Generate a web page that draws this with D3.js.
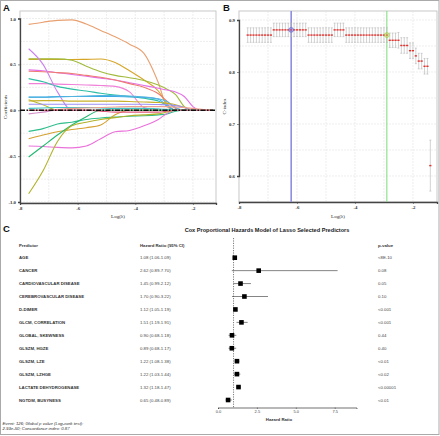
<!DOCTYPE html>
<html><head><meta charset="utf-8">
<script src="https://cdn.jsdelivr.net/npm/d3@7"></script>
<style>body{margin:0;background:#fff}svg{display:block}</style>
</head><body><svg id="c" width="440" height="436"></svg>
<script>
// ---------- Panel A: lasso coefficient paths ----------
const lambdaGrid = [-7.7,-7.2,-6.7,-6.2,-5.7,-5.2,-4.7,-4.2,-3.7,-3.2,-2.9,-2.6,-2.3,-2.0,-1.7,-1.3];
const coefPaths = [
  [0.936,0.96,0.98,0.985,0.94,0.87,0.80,0.72,0.62,0.30,0.04,0,0,0,0,0],
  [0.555,0.555,0.553,0.553,0.555,0.558,0.52,0.43,0.33,0.21,0.07,0,0,0,0,0],
  [0.56,0.56,0.56,0.545,0.48,0.42,0.38,0.355,0.325,0.275,0.23,0.17,0.04,0,0,0],
  [0.44,0.43,0.41,0.39,0.37,0.35,0.33,0.30,0.27,0.24,0.22,0.20,0.15,0.04,0,0],
  [0.425,0.42,0.41,0.40,0.38,0.36,0.33,0.29,0.25,0.18,0.10,0.02,0,0,0,0],
  [0.29,0.29,0.285,0.28,0.275,0.27,0.26,0.20,0.03,0,0,0,0,0,0,0],
  [0.345,0.31,0.26,0.23,0.21,0.185,0.165,0.15,0.13,0.10,0.05,0,0,0,0,0],
  [0.67,0.50,0.20,0,0,0,0,0,0,0,0,0,0,0,0,0],
  [0.145,0.145,0.15,0.15,0.15,0.15,0.15,0.145,0.14,0.12,0.05,0,0,0,0,0],
  [0.14,0.14,0.145,0.15,0.155,0.16,0.16,0.155,0.145,0.125,0.095,0.03,0,0,0,0],
  [0.115,0.06,0,0,0,0,0,0,0,0,0,0,0,0,0,0],
  [0.10,0.105,0.105,0.10,0.10,0.10,0.10,0.095,0.09,0.085,0.075,0.06,0.03,0,0,0],
  [0.065,0.065,0.065,0.065,0.065,0.065,0.065,0.065,0.065,0.062,0.06,0.05,0.03,0,0,0],
  [-0.04,-0.02,0,0,0,0,0,0,0,0,0,0,0,0,0,0],
  [-0.23,-0.20,-0.15,-0.13,-0.10,-0.085,-0.075,-0.065,-0.06,-0.05,-0.04,-0.01,0,0,0,0],
  [-0.31,-0.27,-0.235,-0.21,-0.19,-0.16,-0.05,0,0,0,0,0,0,0,0,0],
  [-0.39,-0.395,-0.405,-0.41,-0.39,-0.31,-0.235,-0.22,-0.17,-0.10,-0.035,0,0,0,0,0],
  [-0.51,-0.39,-0.27,-0.16,-0.07,0,0,0,0,0,0,0,0,0,0,0],
  [-0.91,-0.66,-0.34,-0.17,-0.13,-0.10,-0.08,-0.06,-0.05,-0.04,-0.02,0,0,0,0,0],
  [0.02,0.025,0.03,0.03,0.03,0.025,0.02,0.02,0.02,0.015,0.01,0,0,0,0,0],
  [0,0,0.01,0.02,0.025,0.03,0.035,0.04,0.04,0.04,0.04,0.035,0.03,0.02,0.01,0],
  [0,0,0,0,0,-0.01,-0.02,-0.02,-0.02,-0.02,-0.01,0,0,0,0,0]
];
const coefColors = ["#E9A070","#D7A526","#A0BA3A","#E46FE8","#EE7B72","#F080D8","#2EBFA5","#CC80F0",
  "#3AA9E6","#55B5E0","#B8B828","#C9B02A","#9A90F5","#D390C8","#30BE8C","#D5A030","#EA72DA",
  "#20B870","#B2B22A","#40C4C4","#F0A090","#E05A7A"];
const axisTicksLog = [-8,-6,-4,-2];
const coefTicks = [-1,-0.5,0,0.5,1];

// ---------- Panel B: cross-validated C-index ----------
const cvLogLambda = [-7.7,-7.6,-7.5,-7.4,-7.3,-7.2,-7.1,-7.0,-6.9,-6.8,-6.7,-6.6,-6.5,-6.4,-6.3,-6.2,-6.1,-6.0,-5.9,-5.8,
  -5.7,-5.6,-5.5,-5.4,-5.3,-5.2,-5.1,-5.0,-4.9,-4.8,-4.7,-4.6,-4.5,-4.4,-4.3,-4.2,-4.1,-4.0,-3.9,-3.8,
  -3.7,-3.6,-3.5,-3.4,-3.3,-3.2,-3.1,-3.0,-2.9,-2.8,-2.7,-2.6,-2.5,-2.4,-2.3,-2.2,-2.1,-2.0,-1.9,-1.8,
  -1.7,-1.6,-1.5,-1.4];
const cvMean = [0.871,0.871,0.871,0.871,0.871,0.871,0.871,0.871,0.871,
  0.881,0.881,0.881,0.881,0.881,0.881,0.881,0.881,0.881,0.881,0.881,0.881,
  0.871,0.871,0.871,0.871,0.871,0.871,0.871,0.871,0.871,
  0.881,0.881,0.881,0.881,
  0.871,0.871,0.871,0.871,0.871,0.871,0.871,0.871,0.871,0.871,0.871,0.871,0.871,0.871,0.871,
  0.861,0.861,0.861,0.861,0.851,0.851,0.851,0.841,0.841,0.831,0.821,0.821,0.811,0.811,0.62];
const cvSE = [0.014,0.014,0.014,0.014,0.014,0.014,0.014,0.014,0.014,
  0.013,0.013,0.013,0.013,0.013,0.013,0.013,0.013,0.013,0.013,0.013,0.013,
  0.014,0.014,0.014,0.014,0.014,0.014,0.014,0.014,0.014,
  0.013,0.013,0.013,0.013,
  0.014,0.014,0.014,0.014,0.014,0.014,0.014,0.014,0.014,0.014,0.014,0.014,0.014,0.014,0.014,
  0.014,0.014,0.014,0.015,0.015,0.015,0.015,0.015,0.015,0.015,0.015,0.015,0.015,0.015,0.049];
const lambdaMinLog = -6.2, lambdaMinC = 0.881;
const lambda1seLog = -2.9, lambda1seC = 0.871;
const cTicks = [0.6,0.7,0.8,0.9];

// ---------- Panel C: forest plot ----------
const predictors = ["AGE","CANCER","CARDIOVASCULAR DISEASE","CEREBROVASCULAR DISEASE","D-DIMER","GLCM, CORRELATION",
  "GLOBAL, SKEWNESS","GLSZM, HGZE","GLSZM, LZE","GLSZM, LZHGE","LACTATE DEHYDROGENASE","NGTDM, BUSYNESS"];
const hr = [1.08,2.62,1.45,1.70,1.12,1.51,0.90,0.89,1.22,1.22,1.32,0.65];
const hrLow = [1.06,0.89,0.99,0.90,1.05,1.19,0.68,0.68,1.08,1.03,1.18,0.48];
const hrHigh = [1.09,7.70,2.12,3.22,1.19,1.91,1.18,1.17,1.38,1.44,1.47,0.89];
const pValues = ["<8E-10","0.08","0.05","0.10","<0.001","<0.001","0.44","0.40","<0.01","<0.02","<0.00001","<0.01"];
const hrTicks = [0,2.5,5,7.5];

const svg = d3.select("#c");
svg.append("rect").attr("x",0.5).attr("y",0.5).attr("width",438.5).attr("height",434)
  .attr("fill","#fff").attr("stroke","#aaa");

const tickFont = "'Liberation Serif', serif";
function panel(g, x, y, x0, x1, y0, y1, xGrid, yGrid, xTicks, yTicks, yFmt, yTitle, clipId) {
  g.append("rect").attr("x",x0).attr("y",y0).attr("width",x1-x0).attr("height",y1-y0)
    .attr("fill","#fff").attr("stroke","#bbb").attr("stroke-width",0.8);
  g.selectAll(".gx").data(xGrid).join("line").attr("x1",d=>x(d)).attr("x2",d=>x(d)).attr("y1",y0).attr("y2",y1)
    .attr("stroke","#e2e2e2").attr("stroke-width",0.6).attr("stroke-dasharray","2,1");
  g.selectAll(".gy").data(yGrid).join("line").attr("y1",d=>y(d)).attr("y2",d=>y(d)).attr("x1",x0).attr("x2",x1)
    .attr("stroke","#e2e2e2").attr("stroke-width",0.6).attr("stroke-dasharray","2,1");
  const ax = g.append("g").attr("transform",`translate(0,${y1})`)
    .call(d3.axisBottom(x).tickValues(xTicks).tickSize(2).tickPadding(2).tickFormat(d=>String(d).replace("\u2212","-")));
  const ay = g.append("g").attr("transform",`translate(${x0},0)`)
    .call(d3.axisLeft(y).tickValues(yTicks).tickSize(2).tickPadding(2).tickFormat(yFmt));
  [ax,ay].forEach(a=>{
    a.select(".domain").attr("stroke","#444").attr("stroke-width",1.3);
    a.selectAll(".tick line").attr("stroke","#444").attr("stroke-width",0.6);
    a.selectAll("text").attr("font-family",tickFont).attr("font-size",4.8).attr("font-weight","bold").attr("fill","#333");
  });
  g.append("text").attr("x",(x0+x1)/2).attr("y",218).attr("text-anchor","middle")
    .attr("font-family",tickFont).attr("font-size",5).attr("fill","#222").text("Log(\u03bb)");
  g.append("text").attr("transform",`translate(${x0-13},${(y0+y1)/2}) rotate(-90)`).attr("text-anchor","middle")
    .attr("font-family",tickFont).attr("font-size",5).attr("fill","#222").text(yTitle);
  g.append("clipPath").attr("id",clipId).append("rect").attr("x",x0).attr("y",y0).attr("width",x1-x0).attr("height",y1-y0);
}

// Panel A
const gA = svg.append("g");
const xA = d3.scaleLinear().domain([-8,-1.2]).range([20,216]);
const yA = d3.scaleLinear().domain([-1,1]).range([202,18.5]);
panel(gA, xA, yA, 20, 216, 11, 203, d3.range(-8,-1,1), d3.range(-1,1.01,0.25), axisTicksLog, coefTicks,
  d=>d.toFixed(1).replace("\u2212","-"), "Coefficients", "clipA");
const lineA = d3.line().x((d,i)=>xA(lambdaGrid[i])).y(d=>yA(d)).curve(d3.curveMonotoneX);
gA.append("g").attr("clip-path","url(#clipA)").selectAll("path").data(coefPaths).join("path")
  .attr("d",lineA).attr("fill","none").attr("stroke",(d,i)=>coefColors[i]).attr("stroke-width",1.1);
gA.append("line").attr("x1",20).attr("x2",216).attr("y1",yA(0)).attr("y2",yA(0))
  .attr("stroke","#111").attr("stroke-width",1.3).attr("stroke-dasharray","5,1.5,1.5,1.5");

// Panel B
const gB = svg.append("g");
const xB = d3.scaleLinear().domain([-8,-1.17]).range([239,437]);
const yB = d3.scaleLinear().domain([0.6,0.9]).range([176,20]);
panel(gB, xB, yB, 239, 437, 11, 202, d3.range(-8,-1,1), d3.range(0.55,0.92,0.05), axisTicksLog, cTicks,
  d=>d.toFixed(1), "C-index", "clipB");
const cv = cvLogLambda.map((l,i)=>({l, m:cvMean[i], se:cvSE[i]}));
const gCv = gB.append("g").attr("clip-path","url(#clipB)");
gCv.append("line").attr("x1",xB(lambdaMinLog)).attr("x2",xB(lambdaMinLog)).attr("y1",11).attr("y2",202)
  .attr("stroke","#8e8ee0").attr("stroke-width",1.6);
gCv.append("line").attr("x1",xB(lambda1seLog)).attr("x2",xB(lambda1seLog)).attr("y1",11).attr("y2",202)
  .attr("stroke","#77dd77").attr("stroke-width",1);
gCv.selectAll(".eb").data(cv).join("path")
  .attr("d",d=>{const x=xB(d.l), a=yB(d.m+d.se), b=yB(d.m-d.se);
    return `M${x-1},${a}H${x+1}M${x},${a}V${b}M${x-1},${b}H${x+1}`;})
  .attr("fill","none").attr("stroke","#b4b4b4").attr("stroke-width",0.6);
gCv.selectAll(".pt").data(cv).join("rect")
  .attr("x",d=>xB(d.l)-1.1).attr("y",d=>yB(d.m)-0.7).attr("width",2.2).attr("height",1.4).attr("fill","#e0332f");
gCv.append("circle").attr("cx",xB(lambdaMinLog)).attr("cy",yB(lambdaMinC)).attr("r",2.4)
  .attr("fill","rgba(120,120,230,0.45)").attr("stroke","#6a6ad0").attr("stroke-width",0.7);
gCv.append("circle").attr("cx",xB(lambda1seLog)).attr("cy",yB(lambda1seC)).attr("r",2.4)
  .attr("fill","rgba(190,220,90,0.45)").attr("stroke","#a8c838").attr("stroke-width",0.7);

// Panel labels
const lab = (t,x,y)=>svg.append("text").attr("x",x).attr("y",y).attr("font-family","'Liberation Sans', Arial, sans-serif")
  .attr("font-weight","bold").attr("font-size",9.5).attr("fill","#111").text(t);
lab("A",3,10.5); lab("B",223,10.5); lab("C",3,232);

// Panel C
const gC = svg.append("g");
const sans = "'Liberation Sans', Arial, sans-serif";
gC.append("text").attr("x",267).attr("y",232).attr("text-anchor","middle").attr("font-family",sans)
  .attr("font-weight","bold").attr("font-size",5.6).attr("fill","#222")
  .text("Cox Proportional Hazards Model of Lasso Selected Predictors");
const hdr = [["Predictor",19],["Hazard Ratio (95% CI)",140],["p-value",378]];
gC.selectAll(".hdr").data(hdr).join("text").attr("x",d=>d[1]).attr("y",246.5)
  .attr("font-family",sans).attr("font-weight","bold").attr("font-size",4.3).attr("fill","#333").text(d=>d[0]);
const rowY = d3.scalePoint().domain(d3.range(predictors.length)).range([257.7,400]);
const xC = d3.scaleLinear().domain([0,7.5]).range([218,334.5]);
gC.selectAll(".pred").data(predictors).join("text").attr("x",19).attr("y",(d,i)=>rowY(i)+1.5)
  .attr("font-family",sans).attr("font-weight","bold").attr("font-size",4.3).attr("fill","#333").text(d=>d);
gC.selectAll(".hrt").data(hr).join("text").attr("x",140).attr("y",(d,i)=>rowY(i)+1.5)
  .attr("font-family",sans).attr("font-size",4.3).attr("fill","#444")
  .text((d,i)=>`${d.toFixed(2)} (${hrLow[i].toFixed(2)}-${hrHigh[i].toFixed(2)})`);
gC.selectAll(".pv").data(pValues).join("text").attr("x",378).attr("y",(d,i)=>rowY(i)+1.5)
  .attr("font-family",sans).attr("font-size",4.3).attr("fill","#444").text(d=>d);
// reference line at HR = 1
gC.append("line").attr("x1",xC(1)).attr("x2",xC(1)).attr("y1",238).attr("y2",407.5)
  .attr("stroke","#444").attr("stroke-width",0.7).attr("stroke-dasharray","1.2,1.2");
gC.selectAll(".ci").data(hr).join("line").attr("x1",(d,i)=>xC(hrLow[i])).attr("x2",(d,i)=>xC(hrHigh[i]))
  .attr("y1",(d,i)=>rowY(i)).attr("y2",(d,i)=>rowY(i)).attr("stroke","#333").attr("stroke-width",0.6);
gC.selectAll(".sq").data(hr).join("rect").attr("x",d=>xC(d)-2.3).attr("y",(d,i)=>rowY(i)-2.3)
  .attr("width",4.6).attr("height",4.6).attr("fill","#000");
const axC = gC.append("g").attr("transform","translate(0,407.5)")
  .call(d3.axisBottom(xC.copy().domain([0,8.9]).range([218,356.5])).tickValues(hrTicks).tickSize(1.5).tickPadding(1.5)
    .tickFormat(d3.format(".1f")));
axC.select(".domain").attr("stroke","#333").attr("stroke-width",0.7);
axC.selectAll(".tick line").attr("stroke","#333").attr("stroke-width",0.5);
axC.selectAll("text").attr("font-family",sans).attr("font-size",4).attr("fill","#444");
gC.append("text").attr("x",279).attr("y",421).attr("text-anchor","middle").attr("font-family",sans)
  .attr("font-weight","bold").attr("font-size",4.3).attr("fill","#333").text("Hazard Ratio");
gC.append("text").attr("x",2.5).attr("y",424.5).attr("font-family",sans).attr("font-style","italic")
  .attr("font-size",4.3).attr("fill","#333").text("Event: 126; Global p value (Log-rank test):");
gC.append("text").attr("x",2.5).attr("y",430).attr("font-family",sans).attr("font-style","italic")
  .attr("font-size",4.3).attr("fill","#333").text("2.93e-50; Concordance index: 0.87");
</script></body></html>
